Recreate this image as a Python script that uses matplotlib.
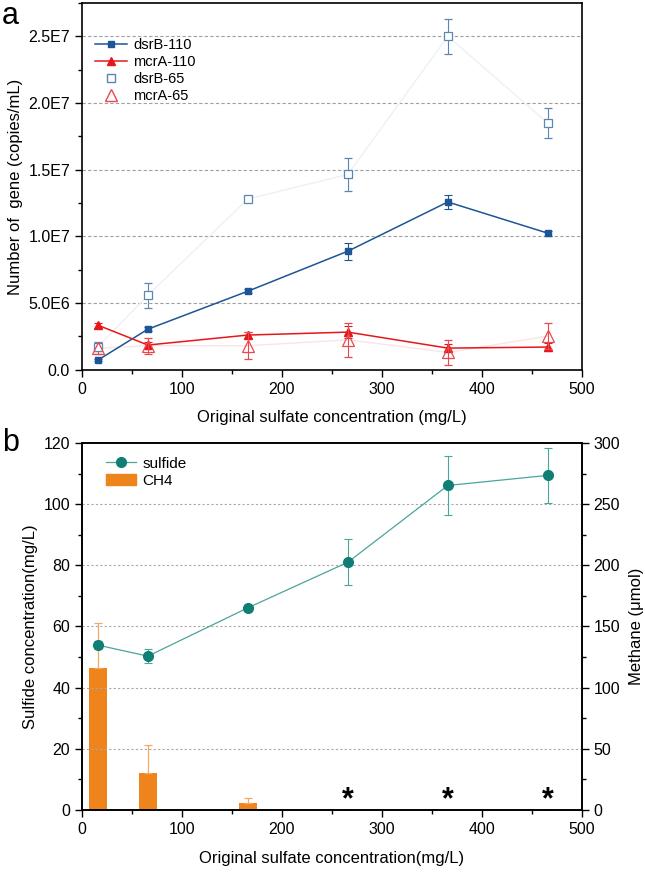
import matplotlib
matplotlib.use("Agg")
import matplotlib.pyplot as plt
from matplotlib.lines import Line2D
from matplotlib.patches import Patch
from matplotlib.ticker import MultipleLocator

plt.rcParams["font.family"] = ["Liberation Sans", "DejaVu Sans"]

# sulfate levels (mg/L)
sulfate = [16, 66, 166, 266, 366, 466]

# panel a: gene copies/mL
dsrb_110 = [0.72e6, 3.04e6, 5.89e6, 8.89e6, 1.258e7, 1.024e7]
dsrb_110_err = [0.1e6, 0.15e6, 0.15e6, 0.65e6, 0.56e6, 0.2e6]
mcra_110 = [3.34e6, 1.85e6, 2.6e6, 2.82e6, 1.62e6, 1.7e6]
mcra_110_err = [0.2e6, 0.2e6, 0.2e6, 0.47e6, 0.3e6, 0.3e6]
dsrb_65 = [1.72e6, 5.59e6, 1.28e7, 1.465e7, 2.5e7, 1.85e7]
dsrb_65_err = [0.35e6, 0.95e6, 0.1e6, 1.25e6, 1.3e6, 1.1e6]
mcra_65 = [1.6e6, 1.8e6, 1.8e6, 2.24e6, 1.3e6, 2.52e6]
mcra_65_err = [0.4e6, 0.6e6, 1.0e6, 1.3e6, 0.95e6, 1.0e6]

gene_ticks = [0, 5e6, 1e7, 1.5e7, 2e7, 2.5e7]
gene_tick_labels = ["0.0", "5.0E6", "1.0E7", "1.5E7", "2.0E7", "2.5E7"]

# panel b
sulfide = [53.9, 50.3, 66.1, 81.0, 106.1, 109.4]
sulfide_err = [1.3, 2.4, 0.5, 7.5, 9.6, 9.0]
ch4 = [116, 30, 6, 0, 0, 0]
ch4_err = [37, 23, 4, 0, 0, 0]

fig = plt.figure(figsize=(6.45, 8.73), dpi=100)
ax1 = fig.add_axes([0.127, 0.5765, 0.775, 0.42])
ax2 = fig.add_axes([0.127, 0.0722, 0.775, 0.4204])

blue = "#1d5596"
red = "#e5171b"
blue_open = "#5a86b6"
red_open = "#e9494c"
teal = "#0f7e74"
teal_line = "#4ba59c"
orange = "#f0841c"

# ---- panel a ----
for y in gene_ticks[1:]:
    ax1.axhline(y, color="#a0a0a0", ls=(0, (3, 2)), lw=0.8, zorder=0)

ax1.plot(sulfate, dsrb_65, color="#edf1f6", lw=1, zorder=1)
ax1.plot(sulfate, mcra_65, color="#fbe4e4", lw=1, zorder=1)
ax1.errorbar(sulfate, dsrb_110, yerr=dsrb_110_err, color=blue, marker="s", ms=5,
             lw=1.1, capsize=3, elinewidth=0.8, capthick=0.8, zorder=3)
ax1.errorbar(sulfate, mcra_110, yerr=mcra_110_err, color=red, marker="^", ms=6,
             lw=1.1, capsize=3, elinewidth=0.8, capthick=0.8, zorder=3)
ax1.errorbar(sulfate, dsrb_65, yerr=dsrb_65_err, color=blue_open, marker="s", ms=6,
             mfc="white", mew=0.9, ls="none", capsize=3, elinewidth=0.8, capthick=0.8,
             zorder=4)
ax1.errorbar(sulfate, mcra_65, yerr=mcra_65_err, color=red_open, marker="^", ms=8,
             mfc="none", mew=0.9, ls="none", capsize=3, elinewidth=0.8, capthick=0.8,
             zorder=4)

handles_a = [
    Line2D([], [], color=blue, marker="s", ms=5, lw=1.1),
    Line2D([], [], color=red, marker="^", ms=6, lw=1.1),
    Line2D([], [], color=blue_open, marker="s", ms=6, mfc="white", ls="none"),
    Line2D([], [], color=red_open, marker="^", ms=8, mfc="none", ls="none"),
]
ax1.legend(handles_a, ["dsrB-110", "mcrA-110", "dsrB-65", "mcrA-65"],
           loc="upper left", bbox_to_anchor=(0.0, 0.94), frameon=False, fontsize=10.5,
           handlelength=2.2, handletextpad=0.4, labelspacing=0.2)

ax1.set_xlim(0, 500)
ax1.set_ylim(0, 2.75e7)
ax1.set_yticks(gene_ticks)
ax1.set_yticklabels(gene_tick_labels)
ax1.yaxis.set_minor_locator(MultipleLocator(2.5e6))
ax1.xaxis.set_minor_locator(MultipleLocator(50))
ax1.set_xticks([0, 100, 200, 300, 400, 500])
ax1.set_xlabel("Original sulfate concentration (mg/L)", fontsize=12, labelpad=10)
ax1.set_ylabel("Number of  gene (copies/mL)", fontsize=12, labelpad=4)
ax1.text(-0.16, 0.965, "a", transform=ax1.transAxes, fontsize=22, va="center", ha="left")

# ---- panel b ----
ax3 = ax2.twinx()
for y in [20, 40, 60, 80, 100]:
    ax2.axhline(y, color="#a8a8a8", ls=(0, (2, 2)), lw=0.8, zorder=0)

ax3.bar(sulfate, ch4, width=18, color=orange, yerr=[[0] * len(ch4_err), ch4_err],
        error_kw=dict(ecolor="#f3a865", elinewidth=0.9, capsize=3, capthick=0.9),
        zorder=2)
for x, v in zip(sulfate, ch4):
    if v == 0:
        ax3.text(x, -4, "*", fontsize=22, ha="center", va="bottom", fontweight="bold")

ax2.set_zorder(ax3.get_zorder() + 1)
ax2.patch.set_visible(False)
ax2.errorbar(sulfate, sulfide, yerr=sulfide_err, color=teal_line, marker="o", ms=7,
             mfc=teal, mec=teal, lw=0.9, capsize=3, elinewidth=0.8, capthick=0.8)

ax2.set_xlim(0, 500)
ax2.set_ylim(0, 120)
ax3.set_ylim(0, 300)
ax2.yaxis.set_major_locator(MultipleLocator(20))
ax2.yaxis.set_minor_locator(MultipleLocator(10))
ax3.yaxis.set_major_locator(MultipleLocator(50))
ax3.yaxis.set_minor_locator(MultipleLocator(25))
ax2.xaxis.set_minor_locator(MultipleLocator(50))
ax2.set_xticks([0, 100, 200, 300, 400, 500])
ax2.set_xlabel("Original sulfate concentration(mg/L)", fontsize=12, labelpad=10)
ax2.set_ylabel("Sulfide concentration(mg/L)", fontsize=12, labelpad=4)
ax3.set_ylabel("Methane (\u03bcmol)", fontsize=12, labelpad=6)

handles_b = [
    Line2D([], [], color=teal_line, marker="o", ms=7, mfc=teal, mec=teal, lw=0.9),
    Patch(color=orange),
]
ax2.legend(handles_b, ["sulfide", "CH4"], loc="upper left", bbox_to_anchor=(0.02, 1.0),
           frameon=False, fontsize=11, handlelength=2.0, handletextpad=0.4,
           labelspacing=0.2)
ax2.text(-0.16, 1.0, "b", transform=ax2.transAxes, fontsize=22, va="center", ha="left")

for ax in (ax1, ax2, ax3):
    ax.tick_params(which="major", direction="out", length=5, width=1, labelsize=11.5)
    ax.tick_params(which="minor", direction="out", length=3, width=1)
    for s in ax.spines.values():
        s.set_linewidth(1.2)

fig.savefig("out.png", dpi=100)
